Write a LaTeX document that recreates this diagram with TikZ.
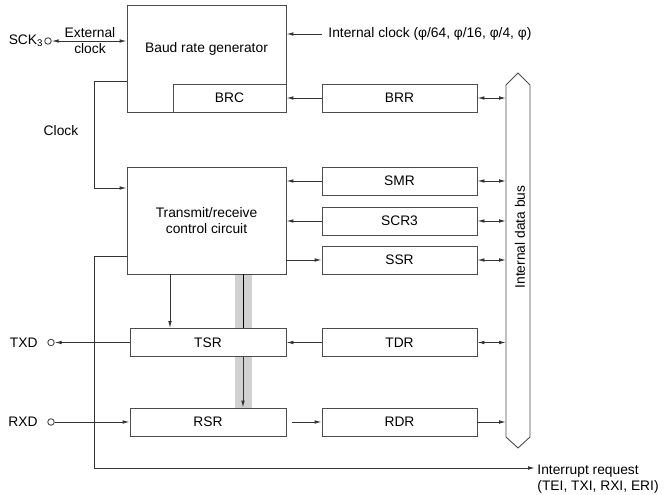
\documentclass[tikz,border=0pt]{standalone}
\usepackage{fontspec}
\setmainfont{Liberation Sans}
\usetikzlibrary{arrows.meta,positioning,backgrounds}

\begin{document}
\begin{tikzpicture}[x=1pt, y=-1pt, font=\fontsize{13.8}{16}\selectfont, line width=0.9pt, box/.style={draw=black!70, fill=white, minimum width=155pt, minimum height=28pt, inner sep=0pt}, blk/.style={box, minimum width=159pt, minimum height=107pt}, pin/.style={draw=black!70, circle, fill=white, minimum size=6.5pt, inner sep=0pt}, arr/.style={-{Latex[length=7pt,width=3.6pt]}, draw=black!80}, darr/.style={{Latex[length=7pt,width=3.6pt]}-{Latex[length=7pt,width=3.6pt]}, draw=black!80}, band/.style={fill=black!18}]
\useasboundingbox (0,0) rectangle (670,495);
\node[blk] (brg) at (206.5,58.5) {};
\node (brgtext) at (206.5,49) {Baud rate generator};
\node[box, minimum width=113pt, anchor=south east] (brc) at (brg.south east) {BRC};
\node[box] (brr) at (399.5,98) {BRR};
\node[blk, align=center] (trx) at (206.5,220.5) {Transmit/receive\\control circuit};
\node[box] (smr) at (399.5,181) {SMR};
\node[box] (scr) at (399.5,221) {SCR3};
\node[box] (ssr) at (399.5,260) {SSR};
\node[box, minimum width=156pt] (tsr) at (208,342.5) {TSR};
\node[box] (tdr) at (399.5,342.5) {TDR};
\node[box, minimum width=156pt] (rsr) at (208,422) {RSR};
\node[box] (rdr) at (399.5,422) {RDR};
\draw[black!70] (506,85) -- (518,73) -- (530,85) -- (530,437) -- (518,448) -- (506,437) -- cycle;
\coordinate (bus) at (506,260);
\node[rotate=90] (bustext) at (520,237) {Internal data bus};
\node[pin, label={[label distance=-2.5pt]left:SCK\textsubscript{3}}] (sck) at (48,41) {};
\node[pin, label={[label distance=6pt]left:TXD}] (txd) at (51,342.5) {};
\node[pin, label={[label distance=6pt]left:RXD}] (rxd) at (51,422) {};
\node[align=center, inner sep=0pt] (ext) at (90,41) {External\\clock};
\node[anchor=west, inner sep=0pt] (iclk) at (328,34) {Internal clock (φ/64, φ/16, φ/4, φ)};
\node (clk) at (61,131) {Clock};
\node[anchor=north west, align=left, inner sep=0pt] (irq) at (537,464.5) {Interrupt request\\(TEI, TXI, RXI, ERI)};
\coordinate (ck) at (94,81);
\coordinate (ir) at (94,256);
\coordinate (irend) at (535,468);
\coordinate (sh) at ([xshift=36.5pt]trx.south);
\begin{scope}[on background layer]
\fill[band] ([xshift=-8.5pt]sh) rectangle ([xshift=8.5pt]sh |- rsr.north);
\end{scope}
\draw[darr] (sck) -- (sck -| brg.west);
\draw[arr] ([xshift=-6pt]iclk.west) -- (iclk.west -| brg.east);
\draw[arr] (brr) -- (brc);
\draw[arr] (ck -| brg.west) -- (ck) |- ([yshift=32.5pt]trx.west);
\draw[arr] (smr) -- (smr -| trx.east);
\draw[arr] (scr) -- (scr -| trx.east);
\draw[arr] (ssr -| trx.east) -- (ssr);
\draw[arr] (ir -| trx.west) -- (ir) |- (irend);
\draw[arr] ([xshift=-36.5pt]trx.south) -- ([xshift=-36.5pt]trx.south |- tsr.north);
\draw (sh) -- (sh |- tsr.north);
\draw[arr] (sh |- tsr.south) -- (sh |- rsr.north);
\draw[arr] (tsr) -- (txd);
\draw[arr] (rxd) -- (rsr);
\draw[arr] (tdr) -- (tsr);
\draw[arr] ([xshift=6pt]rsr.east) -- (rdr);
\draw[darr] (brr) -- (brr -| bus);
\draw[darr] (smr) -- (smr -| bus);
\draw[darr] (scr) -- (scr -| bus);
\draw[darr] (ssr) -- (ssr -| bus);
\draw[darr] (tdr) -- (tdr -| bus);
\draw[arr] (rdr) -- (rdr -| bus);
\end{tikzpicture}
\end{document}
